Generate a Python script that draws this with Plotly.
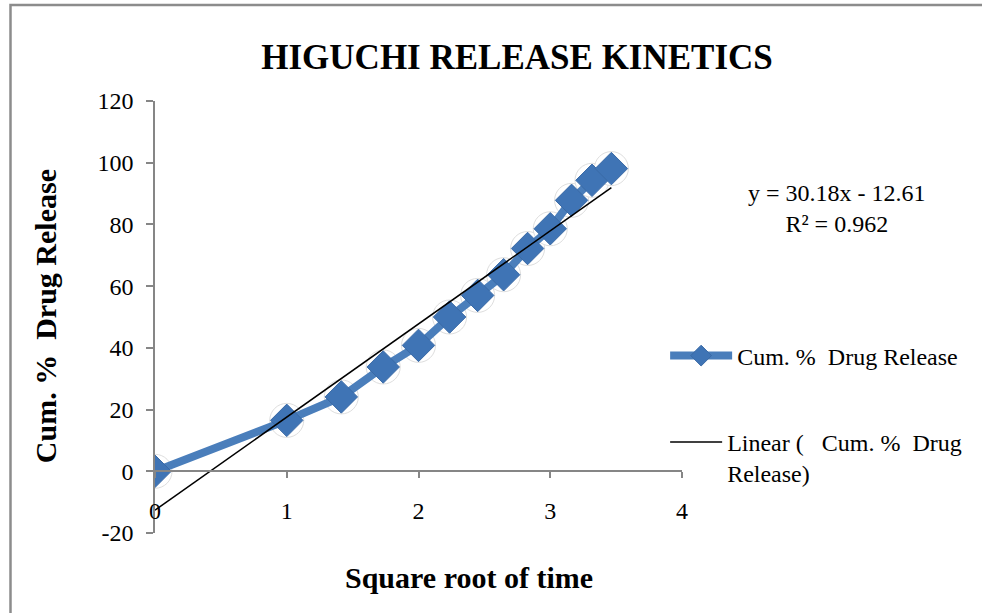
import plotly.graph_objects as go

# Higuchi model: cumulative % drug release against square root of time
sqrt_time = [0, 1, 1.414, 1.732, 2, 2.236, 2.449, 2.646, 2.828, 3, 3.162, 3.317, 3.464]
cum_release = [0, 16.5, 24.1, 33.8, 40.8, 50.0, 57.0, 63.7, 72.2, 78.6, 87.8, 94.3, 98.1]

# least-squares fit reported on the chart
slope = 30.18
intercept = -12.61
r_squared = 0.962

x_ticks = [0, 1, 2, 3, 4]
y_ticks = [-20, 0, 20, 40, 60, 80, 100, 120]

FONT = "Liberation Serif"
BLUE = "#4a7ebb"
AXIS_GREY = "#868686"

trend_x = [sqrt_time[0], sqrt_time[-1]]
trend_y = [slope * v + intercept for v in trend_x]

fig = go.Figure()

# soft halo behind each marker
fig.add_trace(go.Scatter(
    x=sqrt_time, y=cum_release, mode="markers",
    marker=dict(symbol="circle", size=34, color="rgba(255,255,255,1)",
                line=dict(color="#dedede", width=1)),
    showlegend=False, hoverinfo="skip",
))

fig.add_trace(go.Scatter(
    x=sqrt_time, y=cum_release, mode="lines+markers",
    name="Cum.\u00a0%\u00a0\u00a0Drug Release",
    line=dict(color=BLUE, width=8),
    marker=dict(symbol="diamond", size=25, color="#3f74b5",
                line=dict(color="#3a6aa6", width=1)),
    legend="legend",
))

fig.add_trace(go.Scatter(
    x=trend_x, y=trend_y, mode="lines",
    name="Linear (\u00a0\u00a0\u00a0Cum.\u00a0%\u00a0\u00a0Drug<br>Release)",
    line=dict(color="black", width=1.5),
    legend="legend2",
))

# trendline equation
fig.add_annotation(
    x=1.294, y=0.752, xref="paper", yref="paper",
    xanchor="center", yanchor="middle",
    text=f"y = {slope:.2f}x - {abs(intercept):.2f}<br>R² = {r_squared}",
    showarrow=False, align="center",
    font=dict(family=FONT, size=24, color="black"),
)

# axis titles
fig.add_annotation(
    x=-0.2087, y=0.502, xref="paper", yref="paper",
    xanchor="center", yanchor="middle", textangle=-90,
    text="<b>Cum.\u00a0%\u00a0\u00a0Drug Release</b>", showarrow=False,
    font=dict(family=FONT, size=30, color="black"),
)
fig.add_annotation(
    x=0.596, y=-0.1019, xref="paper", yref="paper",
    xanchor="center", yanchor="middle",
    text="<b>Square root of time</b>", showarrow=False,
    font=dict(family=FONT, size=30, color="black"),
)

# chart-area frame
fig.add_shape(type="rect", xref="paper", yref="paper",
              x0=-0.2742, x1=1.75, y0=-0.3, y1=1.2222,
              line=dict(color="#8c8c8c", width=2.5), layer="below")

fig.update_layout(
    width=982, height=613,
    margin=dict(l=155, r=300, t=101, b=80, autoexpand=False),
    paper_bgcolor="white", plot_bgcolor="white",
    font=dict(family=FONT, color="black"),
    title=dict(text="<b>HIGUCHI RELEASE KINETICS</b>",
               x=0.687, xref="paper", xanchor="center",
               y=1 - 57 / 613, yref="container", yanchor="middle",
               font=dict(family=FONT, size=35, color="black")),
    xaxis=dict(
        range=[0, 4], tickvals=x_ticks, ticktext=[str(v) for v in x_ticks],
        showgrid=False, zeroline=False,
        showline=True, linecolor=AXIS_GREY, linewidth=1.5,
        ticks="outside", ticklen=6, tickcolor=AXIS_GREY, tickwidth=1.5,
        anchor="free", position=20 / 140,
        ticklabelstandoff=12,
        tickfont=dict(family=FONT, size=24, color="black"),
    ),
    yaxis=dict(
        range=[-20, 120], tickvals=y_ticks, ticktext=[str(v) for v in y_ticks],
        showgrid=False, zeroline=False,
        showline=True, linecolor=AXIS_GREY, linewidth=1.5,
        ticks="outside", ticklen=7, tickcolor=AXIS_GREY, tickwidth=1.5,
        ticklabelstandoff=8,
        tickfont=dict(family=FONT, size=24, color="black"),
    ),
    legend=dict(x=0.968, y=0.4097, xanchor="left", yanchor="middle",
                itemwidth=62, bgcolor="rgba(0,0,0,0)",
                font=dict(family=FONT, size=24, color="black")),
    legend2=dict(x=0.968, y=0.262, xanchor="left", yanchor="top",
                 valign="top", itemwidth=52, bgcolor="rgba(0,0,0,0)",
                 font=dict(family=FONT, size=24, color="black")),
)

fig.write_html("out.html")
